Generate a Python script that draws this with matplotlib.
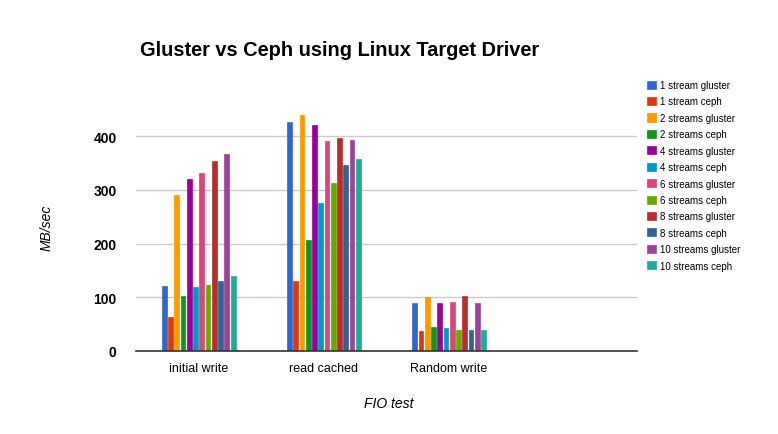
import matplotlib
matplotlib.use("Agg")
import matplotlib.pyplot as plt
import numpy as np

plt.rcParams['font.family'] = ['Liberation Sans', 'DejaVu Sans']

categories = ["initial write", "read cached", "Random write"]
series_names = ["1 stream gluster", "1 stream ceph", "2 streams gluster", "2 streams ceph",
                "4 streams gluster", "4 streams ceph", "6 streams gluster", "6 streams ceph",
                "8 streams gluster", "8 streams ceph", "10 streams gluster", "10 streams ceph"]
values = [
    [121, 427, 89],
    [63, 131, 38],
    [290, 440, 100],
    [102, 206, 44],
    [320, 421, 89],
    [119, 276, 42],
    [332, 390, 92],
    [123, 313, 40],
    [353, 397, 103],
    [130, 346, 40],
    [367, 393, 89],
    [140, 357, 40],
]
colors = ["#3366cc", "#dc3912", "#ff9900", "#109618", "#990099", "#0099c6",
          "#dd4477", "#66aa00", "#b82e2e", "#316395", "#994499", "#22aa99"]
yticks = [0, 100, 200, 300, 400]

fig = plt.figure(figsize=(7.78, 4.35), dpi=100)
ax = fig.add_axes([136/778, 1-352/435, (637-136)/778, (352-100)/435])

n = len(series_names)
group_w = 0.6
slot = group_w / n
x = np.arange(len(categories))
for i, (name, vals, c) in enumerate(zip(series_names, values, colors)):
    ax.bar(x - group_w/2 + slot*(i+0.5), vals, width=slot*0.78, color=c, label=name,
           edgecolor=c, linewidth=0.5, zorder=3)

ax.set_xlim(-0.5, 3.5)
ax.set_ylim(0, 469)
ax.set_yticks(yticks)
ax.set_yticklabels([str(t) for t in yticks], fontweight='bold', fontsize=10)
ax.set_xticks(x)
ax.set_xticklabels(categories, fontsize=9)
ax.tick_params(length=0, pad=8)
ax.tick_params(axis='y', pad=14)
for t in yticks[1:]:
    ax.axhline(t, color='#cccccc', linewidth=1, zorder=1)
for s in ['top', 'right', 'left']:
    ax.spines[s].set_visible(False)
ax.spines['bottom'].set_color('#333333')
ax.spines['bottom'].set_linewidth(1.2)
ax.spines['bottom'].set_zorder(4)

fig.text(140/778, 1-50/435, "Gluster vs Ceph using Linux Target Driver",
         fontsize=14.4, fontweight='bold', va='center', ha='left')
fig.text(47/778, 1-228/435, "MB/sec", rotation=90, style='italic', fontsize=10,
         va='center', ha='center')
fig.text(389/778, 1-404/435, "FIO test", style='italic', fontsize=10,
         va='center', ha='center')

leg = ax.legend(loc='upper left', bbox_to_anchor=(647/778, 1-81/435),
                bbox_transform=fig.transFigure, frameon=False, fontsize=7,
                handlelength=0.9, handleheight=0.9, handletextpad=0.4,
                labelspacing=0.66, borderaxespad=0, borderpad=0)

fig.savefig("out.png", dpi=100, facecolor='white')
